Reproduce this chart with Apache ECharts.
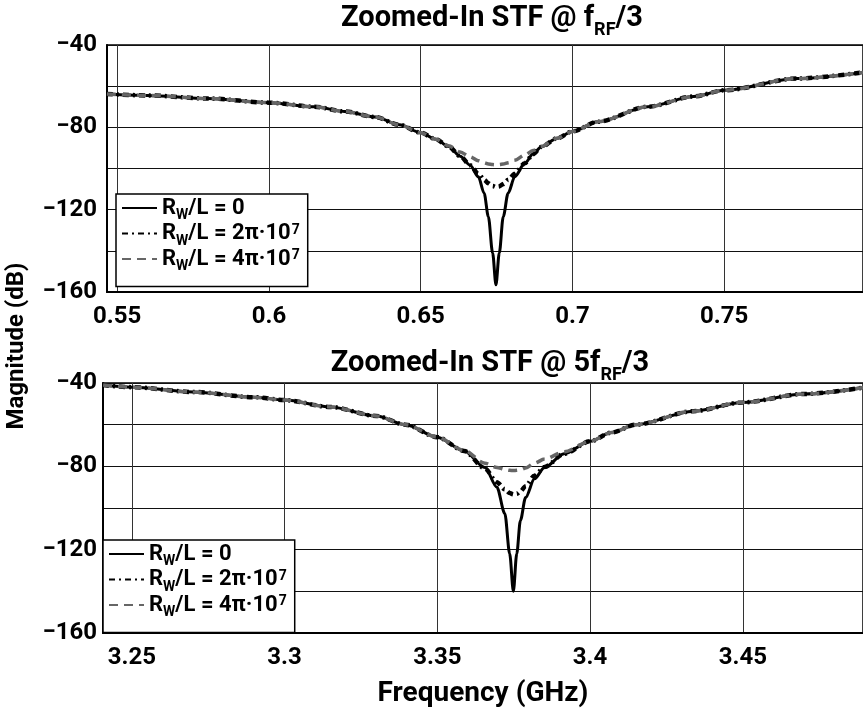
<!DOCTYPE html>
<html>
<head>
<meta charset="utf-8">
<script src="https://cdn.jsdelivr.net/npm/echarts@6/dist/echarts.min.js"></script>
<style>
  html, body { margin: 0; padding: 0; background: #fff; }
  #chart { width: 863px; height: 717px; }
</style>
</head>
<body>
<div id="chart"></div>
<script>
// top panel: around f_RF/3
var freqTop = [0.5466, 0.56, 0.58, 0.60, 0.615, 0.625, 0.635, 0.643, 0.65, 0.655, 0.6592, 0.663, 0.6663, 0.669, 0.6709, 0.6723, 0.6737, 0.6748,
    0.6759, 0.6772, 0.6788, 0.681, 0.6843, 0.687, 0.6897, 0.695, 0.70, 0.7083, 0.7248, 0.74, 0.75, 0.774, 0.7958];
var magTop0 = [-63.8, -64.5, -66.0, -68.0, -70.0, -72.3, -75.0, -78.8, -82.6, -85.8, -89.3, -94.0, -98.4, -104, -112, -123.4, -141, -156.5,
    -141, -123.4, -112, -104, -97.5, -93.0, -89.5, -85.3, -82.0, -77.3, -70.0, -65.0, -62.0, -56.3, -53.3];
var magTop1 = [-63.8, -64.5, -66.0, -68.0, -70.0, -72.3, -75.0, -78.8, -82.6, -85.8, -89.3, -94.0, -98.4, -102.5, -105.5, -107.2, -108.5, -109.0,
    -108.7, -107.5, -105.5, -102.5, -97.5, -93.0, -89.5, -85.3, -82.0, -77.3, -70.0, -65.0, -62.0, -56.3, -53.3];
var magTop2 = [-63.8, -64.5, -66.0, -68.0, -70.0, -72.3, -75.0, -78.8, -82.6, -85.8, -89.0, -92.0, -94.3, -96.2, -97.2, -97.8, -98.1, -98.2,
    -98.1, -97.8, -97.2, -96.0, -93.5, -91.3, -89.3, -85.3, -82.0, -77.3, -70.0, -65.0, -62.0, -56.3, -53.3];

// bottom panel: around 5f_RF/3
var freqBot = [3.2406, 3.25, 3.27, 3.29, 3.30, 3.315, 3.33, 3.3396, 3.35, 3.3588, 3.3656, 3.3695, 3.3721, 3.3737, 3.3749,
    3.376, 3.3772, 3.3789, 3.3818, 3.3851, 3.3915, 3.40, 3.407, 3.415, 3.4338, 3.45, 3.47, 3.4894];
var magBot0 = [-41.0, -42.0, -44.3, -46.8, -48.2, -51.5, -55.8, -60.0, -66.0, -72.6, -80.5, -90.0, -102.6, -122, -140,
    -122, -106, -95.0, -86.0, -80.5, -74.0, -68.0, -63.8, -60.0, -53.5, -49.3, -45.3, -42.2];
var magBot1 = [-41.0, -42.0, -44.3, -46.8, -48.2, -51.5, -55.8, -60.0, -66.0, -72.6, -81.0, -87.6, -91.0, -92.8, -93.5,
    -93.2, -92.0, -89.5, -84.5, -80.3, -74.0, -68.0, -63.8, -60.0, -53.5, -49.3, -45.3, -42.2];
var magBot2 = [-41.0, -42.0, -44.3, -46.8, -48.2, -51.5, -55.8, -60.0, -66.0, -72.4, -78.5, -80.5, -81.5, -81.9, -82.0,
    -81.9, -81.6, -80.8, -78.5, -76.5, -73.0, -68.0, -63.8, -60.0, -53.5, -49.3, -45.3, -42.2];

var seriesNames = ['R_W/L = 0', 'R_W/L = 2pi 1e7', 'R_W/L = 4pi 1e7'];
var legendText = {
    'R_W/L = 0': '{n|R}{sub|W}{n|/L = 0}',
    'R_W/L = 2pi 1e7': '{n|R}{sub|W}{n|/L = 2π·10}{sup|7}',
    'R_W/L = 4pi 1e7': '{n|R}{sub|W}{n|/L = 4π·10}{sup|7}'
};

var FONT = 'Roboto';

function pairs(xs, ys) {
    return xs.map(function (x, i) { return [x, ys[i]]; });
}

var chart = echarts.init(document.getElementById('chart'));

var richText = {
    n: { fontFamily: FONT, fontWeight: 'bold', fontSize: 22, color: '#000', lineHeight: 21 },
    sub: { fontFamily: FONT, fontWeight: 'bold', fontSize: 14, color: '#000', lineHeight: 14, verticalAlign: 'bottom', padding: [0, 0, -4, 0] },
    sup: { fontFamily: FONT, fontWeight: 'bold', fontSize: 14, color: '#000', lineHeight: 14, verticalAlign: 'top', padding: [0, 0, 0, 1] }
};

var titleRich = {
    t: { fontFamily: FONT, fontWeight: 'bold', fontSize: 29, color: '#000', lineHeight: 30 },
    s: { fontFamily: FONT, fontWeight: 'bold', fontSize: 18, color: '#000', lineHeight: 18, verticalAlign: 'bottom', padding: [0, 0, -5, 0] }
};

function xAxisOf(idx, min, max, withName) {
    var ax = {
        type: 'value',
        gridIndex: idx,
        min: min,
        max: max,
        axisLine: { show: true, onZero: false, lineStyle: { color: '#000', width: 2 } },
        axisTick: { show: false },
        splitLine: { show: true, lineStyle: { color: '#333', width: 1 } },
        axisLabel: {
            fontFamily: FONT, fontWeight: 'bold', fontSize: 24, color: '#000', margin: 13,
            showMinLabel: false, showMaxLabel: false
        }
    };
    if (withName) {
        ax.name = 'Frequency (GHz)';
        ax.nameLocation = 'middle';
        ax.nameGap = 47;
        ax.nameTextStyle = { fontFamily: FONT, fontWeight: 'bold', fontSize: 28, color: '#000' };
    }
    return ax;
}

function yAxisOf(idx, margin) {
    return {
        type: 'value',
        gridIndex: idx,
        min: -160,
        max: -40,
        interval: 20,
        axisLine: { show: true, onZero: false, lineStyle: { color: '#000', width: 2 } },
        axisTick: { show: false },
        splitLine: { show: true, lineStyle: { color: '#111', width: 1 } },
        axisLabel: {
            fontFamily: FONT, fontWeight: 'bold', fontSize: 24, color: '#000', margin: margin,
            formatter: function (v) {
                if (v % 40 !== 0) return '';
                return '\u2212' + Math.abs(v);
            }
        }
    };
}

function threeSeries(idx, xs, a, b, c) {
    return [
        {
            name: seriesNames[0], type: 'line', xAxisIndex: idx, yAxisIndex: idx,
            data: pairs(xs, a), symbol: 'none', smooth: 0.3, smoothMonotone: 'x',
            lineStyle: { color: '#000', width: 3, type: 'solid' }, itemStyle: { color: '#000' }
        },
        {
            name: seriesNames[1], type: 'line', xAxisIndex: idx, yAxisIndex: idx,
            data: pairs(xs, b), symbol: 'none', smooth: 0.3, smoothMonotone: 'x',
            lineStyle: { color: '#000', width: 4.5, type: [6, 4, 2, 4] }, itemStyle: { color: '#000' }
        },
        {
            name: seriesNames[2], type: 'line', xAxisIndex: idx, yAxisIndex: idx,
            data: pairs(xs, c), symbol: 'none', smooth: 0.3, smoothMonotone: 'x',
            lineStyle: { color: '#666', width: 3.5, type: [9, 6] }, itemStyle: { color: '#666' }
        }
    ];
}

function legendOf(left, top) {
    return {
        data: seriesNames,
        orient: 'vertical',
        left: left,
        top: top,
        itemWidth: 35,
        itemHeight: 14,
        itemGap: 0,
        padding: [3, 8, 13, 5],
        backgroundColor: '#fff',
        borderColor: '#000',
        borderWidth: 1.5,
        borderRadius: 0,
        selectedMode: false,
        itemStyle: { opacity: 0 },
        formatter: function (name) { return legendText[name]; },
        textStyle: { fontFamily: FONT, fontWeight: 'bold', fontSize: 22, rich: richText }
    };
}

var options = {
    animation: false,
    backgroundColor: '#fff',
    title: [
        { text: '{t|Zoomed-In STF @ f}{s|RF}{t|/3}', left: 487, top: -1, textAlign: 'center', textStyle: { rich: titleRich } },
        { text: '{t|Zoomed-In STF @ 5f}{s|RF}{t|/3}', left: 485, top: 344, textAlign: 'center', textStyle: { rich: titleRich } }
    ],
    grid: [
        { left: 107, top: 45, right: -5, height: 247, show: true, borderColor: '#000', borderWidth: 1.5, backgroundColor: 'transparent' },
        { left: 103, top: 383, right: -5, height: 250, show: true, borderColor: '#000', borderWidth: 1.5, backgroundColor: 'transparent' }
    ],
    xAxis: [
        xAxisOf(0, 0.54663, 0.79575, false),
        xAxisOf(1, 3.24057, 3.48935, true)
    ],
    yAxis: [yAxisOf(0, 10), yAxisOf(1, 6)],
    legend: [legendOf(116, 194), legendOf(103, 540)],
    graphic: [{
        type: 'text',
        x: 17,
        y: 346,
        rotation: Math.PI / 2,
        style: {
            text: 'Magnitude (dB)',
            font: 'bold 24px Roboto',
            fill: '#000',
            align: 'center',
            verticalAlign: 'middle'
        }
    }],
    series: threeSeries(0, freqTop, magTop0, magTop1, magTop2)
        .concat(threeSeries(1, freqBot, magBot0, magBot1, magBot2))
};

chart.setOption(options);
</script>
</body>
</html>
